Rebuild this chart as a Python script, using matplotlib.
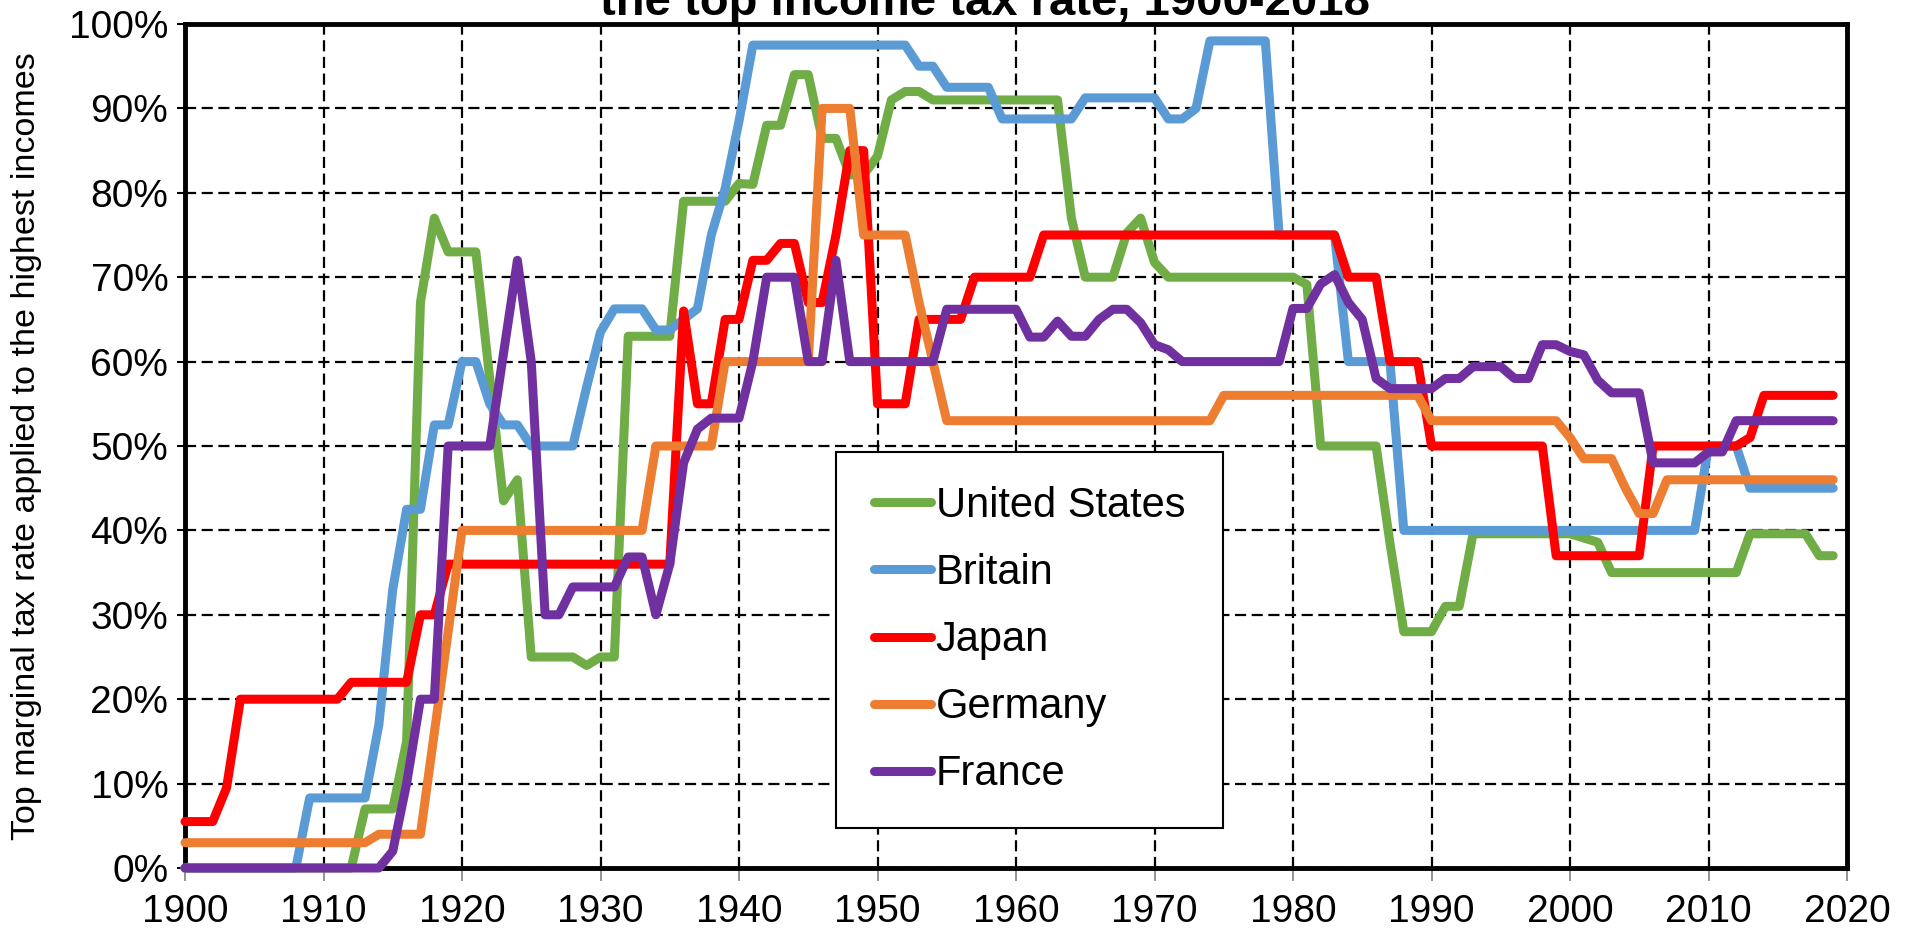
import matplotlib
matplotlib.use("Agg")
import matplotlib.pyplot as plt
from matplotlib.ticker import FuncFormatter
from matplotlib.patches import Rectangle

plt.rcParams['font.family'] = ['Liberation Sans', 'DejaVu Sans']

years = list(range(1900, 2020))

united_states = [
    0, 0, 0, 0, 0, 0, 0, 0, 0, 0,
    0, 0, 0, 7, 7, 7, 15, 67, 77, 73,
    73, 73, 58, 43.5, 46, 25, 25, 25, 25, 24,
    25, 25, 63, 63, 63, 63, 79, 79, 79, 79,
    81.1, 81, 88, 88, 94, 94, 86.45, 86.45, 82.13, 82.13,
    84.36, 91, 92, 92, 91, 91, 91, 91, 91, 91,
    91, 91, 91, 91, 77, 70, 70, 70, 75.25, 77,
    71.75, 70, 70, 70, 70, 70, 70, 70, 70, 70,
    70, 69.13, 50, 50, 50, 50, 50, 38.5, 28, 28,
    28, 31, 31, 39.6, 39.6, 39.6, 39.6, 39.6, 39.6, 39.6,
    39.6, 39.1, 38.6, 35, 35, 35, 35, 35, 35, 35,
    35, 35, 35, 39.6, 39.6, 39.6, 39.6, 39.6, 37, 37,
]

britain = [
    0, 0, 0, 0, 0, 0, 0, 0, 0, 8.3,
    8.3, 8.3, 8.3, 8.3, 17, 33, 42.5, 42.5, 52.5, 52.5,
    60, 60, 55, 52.5, 52.5, 50, 50, 50, 50, 57,
    63.5, 66.25, 66.25, 66.25, 63.75, 63.75, 65, 66.25, 75, 80.5,
    88.5, 97.5, 97.5, 97.5, 97.5, 97.5, 97.5, 97.5, 97.5, 97.5,
    97.5, 97.5, 97.5, 95, 95, 92.5, 92.5, 92.5, 92.5, 88.75,
    88.75, 88.75, 88.75, 88.75, 88.75, 91.25, 91.25, 91.25, 91.25, 91.25,
    91.25, 88.75, 88.75, 90, 98, 98, 98, 98, 98, 75,
    75, 75, 75, 75, 60, 60, 60, 60, 40, 40,
    40, 40, 40, 40, 40, 40, 40, 40, 40, 40,
    40, 40, 40, 40, 40, 40, 40, 40, 40, 40,
    50, 50, 50, 45, 45, 45, 45, 45, 45, 45,
]

japan = [
    5.5, 5.5, 5.5, 9.5, 20, 20, 20, 20, 20, 20,
    20, 20, 22, 22, 22, 22, 22, 30, 30, 36,
    36, 36, 36, 36, 36, 36, 36, 36, 36, 36,
    36, 36, 36, 36, 36, 36, 66, 55, 55, 65,
    65, 72, 72, 74, 74, 67, 67, 75, 85, 85,
    55, 55, 55, 65, 65, 65, 65, 70, 70, 70,
    70, 70, 75, 75, 75, 75, 75, 75, 75, 75,
    75, 75, 75, 75, 75, 75, 75, 75, 75, 75,
    75, 75, 75, 75, 70, 70, 70, 60, 60, 60,
    50, 50, 50, 50, 50, 50, 50, 50, 50, 37,
    37, 37, 37, 37, 37, 37, 50, 50, 50, 50,
    50, 50, 50, 51, 56, 56, 56, 56, 56, 56,
]

germany = [
    3, 3, 3, 3, 3, 3, 3, 3, 3, 3,
    3, 3, 3, 3, 4, 4, 4, 4, 16, 28,
    40, 40, 40, 40, 40, 40, 40, 40, 40, 40,
    40, 40, 40, 40, 50, 50, 50, 50, 50, 60,
    60, 60, 60, 60, 60, 60, 90, 90, 90, 75,
    75, 75, 75, 67, 60, 53, 53, 53, 53, 53,
    53, 53, 53, 53, 53, 53, 53, 53, 53, 53,
    53, 53, 53, 53, 53, 56, 56, 56, 56, 56,
    56, 56, 56, 56, 56, 56, 56, 56, 56, 56,
    53, 53, 53, 53, 53, 53, 53, 53, 53, 53,
    51, 48.5, 48.5, 48.5, 45, 42, 42, 46, 46, 46,
    46, 46, 46, 46, 46, 46, 46, 46, 46, 46,
]

france = [
    0, 0, 0, 0, 0, 0, 0, 0, 0, 0,
    0, 0, 0, 0, 0, 2, 10, 20, 20, 50,
    50, 50, 50, 61, 72, 60, 30, 30, 33.3, 33.3,
    33.3, 33.3, 36.85, 36.85, 30, 36, 48, 52, 53.3, 53.3,
    53.3, 60, 70, 70, 70, 60, 60, 72, 60, 60,
    60, 60, 60, 60, 60, 66.2, 66.2, 66.2, 66.2, 66.2,
    66.2, 62.9, 62.9, 64.8, 63, 63, 65, 66.2, 66.2, 64.6,
    62, 61.4, 60, 60, 60, 60, 60, 60, 60, 60,
    66.3, 66.3, 69.2, 70.3, 67, 65, 58, 56.8, 56.8, 56.8,
    56.8, 58, 58, 59.4, 59.4, 59.4, 58, 58, 62, 62,
    61.2, 60.8, 57.8, 56.3, 56.3, 56.3, 48, 48, 48, 48,
    49.3, 49.3, 53, 53, 53, 53, 53, 53, 53, 53,
]

country_names = ["United States", "Britain", "Japan", "Germany", "France"]
country_colors = ["#70AD47", "#5B9BD5", "#FF0000", "#ED7D31", "#7030A0"]
x_ticks = list(range(1900, 2021, 10))
y_ticks = list(range(0, 101, 10))

title_text = "the top income tax rate, 1900-2018"
ylabel_text = "Top marginal tax rate applied to the highest incomes"

W, H = 1912, 936
fig = plt.figure(figsize=(W / 100, H / 100), dpi=100)
ax = fig.add_axes([185 / W, 68 / H, 1662 / W, 844 / H])

all_series = [united_states, britain, japan, germany, france]
for i, (name, vals, col) in enumerate(zip(country_names, all_series, country_colors)):
    ax.plot(years, vals, color=col, lw=6.5, solid_capstyle='round',
            solid_joinstyle='round', label=name, zorder=3 + i, clip_on=False)

ax.set_xlim(1900, 2020)
ax.set_ylim(0, 100)
ax.set_xticks(x_ticks)
ax.set_yticks(y_ticks)
ax.yaxis.set_major_formatter(FuncFormatter(lambda v, p: f"{v:.0f}%"))
ax.grid(True, color='black', linestyle=(0, (5, 2.5)), linewidth=1.6)
ax.set_axisbelow(True)
for s in ax.spines.values():
    s.set_linewidth(3.5)
    s.set_color('black')
    s.set_zorder(2.5)
ax.tick_params(axis='both', labelsize=28, direction='out')
ax.tick_params(axis='y', length=6, width=1.5, pad=6, color='black')
ax.tick_params(axis='x', length=9, width=1.2, pad=10, color='#808080')

rect = Rectangle((0.3917, 0.0474), 0.2329, 0.4459, transform=ax.transAxes,
                 facecolor='white', edgecolor='black', linewidth=1.5, zorder=10)
ax.add_patch(rect)
leg = ax.legend(loc='center', bbox_to_anchor=(0.508, 0.270), frameon=False,
                fontsize=30, handlelength=1.37, handletextpad=0.12,
                labelspacing=0.65, borderpad=0)
leg.set_zorder(11)

# title line is cut at the top edge, as in the reference
fig.text(985 / W, 1 - 15 / H, title_text, ha='center', va='baseline',
         fontsize=34, fontweight='bold')
fig.text(27 / W, 1 - 446 / H, ylabel_text, rotation=90, ha='center',
         va='center', fontsize=24.5)

fig.savefig("out.png", dpi=100)
